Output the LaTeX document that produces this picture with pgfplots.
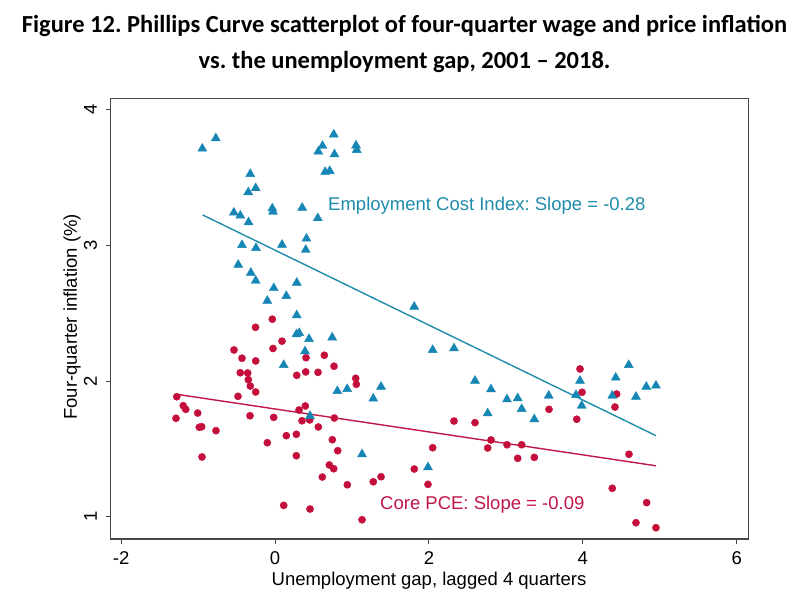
\documentclass[border=0pt]{standalone}
\usepackage{pgfplots}
\pgfplotsset{compat=1.18}
\usepackage{fontspec}
\setmainfont{Liberation Sans}
\newfontfamily\titlefont{Carlito}
\definecolor{ecib}{RGB}{22,134,180}
\definecolor{ecil}{RGB}{30,140,170}
\definecolor{pcer}{RGB}{196,14,60}
\definecolor{pcel}{RGB}{192,22,72}
\definecolor{axc}{RGB}{70,70,70}
\frenchspacing
\begin{document}
\begin{tikzpicture}[x=1pt,y=1pt]
\path[use as bounding box] (0,0) rectangle (811,609);
\begin{axis}[
  at={(110.5pt,70pt)}, anchor=south west,
  scale only axis, width=637.8pt, height=440.7pt,
  xmin=-2.138, xmax=6.151, ymin=0.835, ymax=4.085,
  xtick={-2,0,2,4,6}, ytick={1,2,3,4},
  tick align=outside, major tick length=5pt,
  tick style={axc, line width=1pt},
  axis line style={axc, line width=1.2pt},
  xtick pos=bottom, ytick pos=left,
  /pgf/number format/assume math mode=true,
  tick label style={font=\fontsize{18.5}{20}\selectfont},
  yticklabel style={rotate=90, anchor=south},
  xticklabel shift={4pt}, yticklabel shift={5pt},
  clip=false,
]
% Core PCE (circles)
\addplot[only marks, mark=*, mark size=3.6pt, color=pcer, mark options={draw=pcer, fill=pcer}] coordinates {
(-0.035,2.456) (-0.253,2.396) (0.091,2.294) (-0.026,2.240) (-0.533,2.229)
(-0.429,2.168) (-0.251,2.148) (0.403,2.172) (0.641,2.190) (0.767,2.109)
(-0.451,2.061) (-0.355,2.059) (-0.347,2.010) (-0.321,1.963) (-0.251,1.919)
(0.282,2.042) (0.399,2.067) (0.559,2.064) (1.049,2.020) (1.057,1.976)
(-0.481,1.887) (-1.277,1.884) (-1.192,1.818) (-1.160,1.791) (-1.287,1.725)
(-1.005,1.764) (-0.984,1.659) (-0.953,1.663) (-0.767,1.634) (-0.949,1.440)
(-0.325,1.744) (-0.017,1.732) (0.394,1.816) (0.312,1.786) (0.351,1.707)
(0.451,1.713) (0.771,1.727) (0.563,1.661) (0.147,1.597) (0.277,1.607)
(-0.100,1.545) (0.745,1.567) (0.815,1.486) (0.277,1.449) (0.706,1.381)
(0.763,1.353) (0.615,1.292) (0.940,1.235) (0.113,1.083) (0.455,1.056)
(1.131,0.977) (1.277,1.257) (1.378,1.294) (1.988,1.238) (2.049,1.508)
(1.810,1.351) (3.964,2.089) (3.990,1.917) (4.440,1.904) (4.418,1.808)
(3.561,1.791) (3.921,1.718) (2.326,1.705) (2.599,1.693) (2.807,1.565)
(2.764,1.506) (3.015,1.530) (3.206,1.530) (3.154,1.430) (3.370,1.437)
(4.600,1.460) (4.383,1.209) (4.830,1.103) (4.691,0.955) (4.951,0.918)
};
% ECI (triangles)
\addplot[only marks, mark=triangle*, mark size=5.2pt, color=ecib, mark options={draw=ecib, fill=ecib}] coordinates {
(-0.945,3.714) (-0.769,3.790) (0.764,3.818) (0.617,3.734) (0.563,3.692)
(0.773,3.672) (1.053,3.737) (1.062,3.704) (0.652,3.542) (0.711,3.549)
(-0.322,3.527) (-0.251,3.422) (-0.348,3.392) (-0.535,3.242) (-0.451,3.220)
(-0.344,3.171) (-0.035,3.273) (-0.026,3.249) (0.353,3.278) (0.556,3.201)
(-0.429,3.003) (-0.247,2.981) (0.091,3.005) (0.409,3.050) (0.399,2.967)
(-0.478,2.857) (-0.314,2.798) (-0.251,2.740) (-0.016,2.685) (0.283,2.725)
(-0.100,2.592) (0.147,2.627) (0.282,2.485) (0.279,2.345) (0.314,2.354)
(0.442,2.310) (0.743,2.321) (0.390,2.219) (0.113,2.118) (0.810,1.926)
(0.938,1.941) (1.277,1.870) (1.378,1.958) (0.455,1.742) (1.131,1.460)
(1.809,2.548) (2.049,2.229) (2.326,2.241) (2.599,2.002) (2.807,1.939)
(2.764,1.762) (3.015,1.865) (3.154,1.873) (3.206,1.794) (3.370,1.718)
(3.557,1.892) (3.964,2.002) (3.912,1.897) (3.986,1.818) (4.428,2.025)
(4.383,1.892) (4.597,2.118) (4.691,1.884) (4.825,1.958) (4.951,1.966)
(1.988,1.364)
};
% fitted lines
\addplot[ecil, line width=1.4pt, no marks] coordinates {(-0.941,3.225) (4.951,1.597)};
\addplot[pcel, line width=1.4pt, no marks] coordinates {(-1.277,1.902) (4.951,1.375)};
\node[anchor=west, inner sep=0pt, text=ecil, font=\fontsize{18.5}{20}\selectfont] at (axis cs:0.689,3.291) {Employment Cost Index: Slope = -0.28};
\node[anchor=west, inner sep=0pt, text=pcel, font=\fontsize{18.5}{20}\selectfont] at (axis cs:1.365,1.085) {Core PCE: Slope = -0.09};
\end{axis}
\node[anchor=base, font=\fontsize{18.5}{20}\selectfont] at (429,23) {Unemployment gap, lagged 4 quarters};
\node[rotate=90, font=\fontsize{18.5}{20}\selectfont] at (72,292) {Four-quarter inflation (\%)};
\node[anchor=base, font=\titlefont\bfseries\fontsize{24.5}{27}\selectfont] at (404.5,576) {Figure 12. Phillips Curve scatterplot of four-quarter wage and price inflation};
\node[anchor=base, font=\titlefont\bfseries\fontsize{24.5}{27}\selectfont] at (404.5,540) {vs. the unemployment gap, 2001 – 2018.};
\end{tikzpicture}
\end{document}
